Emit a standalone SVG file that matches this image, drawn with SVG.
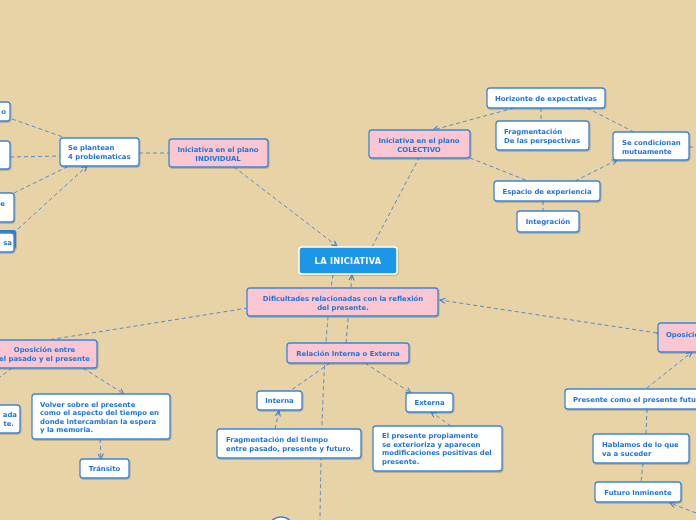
<svg xmlns="http://www.w3.org/2000/svg" width="696" height="520" viewBox="0 0 696 520">
<defs>
<style>
.bg{fill:#e8d3a7}
.n{fill:#ffffff;stroke:#3b86d8;stroke-width:1.3}
.p{fill:#f9c6d1;stroke:#3b86d8;stroke-width:1.3}
.t{font-family:"DejaVu Sans",Verdana,sans-serif;font-weight:bold;font-size:6.9px;fill:#1f74d8}
.c{text-anchor:middle}
.e{text-anchor:end}
.k{fill:none;stroke:#5a8ac8;stroke-width:1;stroke-dasharray:4 3}
.root{fill:#1c97e7;stroke:#ffffff;stroke-width:1.5}
.rt{font-family:"DejaVu Sans",Verdana,sans-serif;font-weight:bold;font-size:8.2px;fill:#ffffff;text-anchor:middle;letter-spacing:0.3px}
</style>
<marker id="a" viewBox="0 0 8 8" refX="7" refY="4" markerWidth="7" markerHeight="7" orient="auto" markerUnits="userSpaceOnUse">
<path d="M1,1 L7,4 L1,7" fill="none" stroke="#3b7fd0" stroke-width="1.2"/>
</marker>
<filter id="s" x="-10%" y="-10%" width="130%" height="140%">
<feDropShadow dx="0.8" dy="1" stdDeviation="0.7" flood-color="#000" flood-opacity="0.22"/>
</filter>
</defs>
<rect class="bg" x="0" y="0" width="696" height="520"/>

<g id="connectors">
<path class="k" d="M12,119 L63,137"/>
<path class="k" d="M10,157 L60,156"/>
<path class="k" d="M14,193 L67,167"/>
<path class="k" d="M18,229 L87,166" marker-end="url(#a)"/>
<path class="k" d="M139,153 L169,153"/>
<path class="k" d="M234,167 L337,246" marker-end="url(#a)"/>
<path class="k" d="M372,247 L419,158"/>
<path class="k" d="M514,108 L433,130" marker-end="url(#a)"/>
<path class="k" d="M541,108 L541,121"/>
<path class="k" d="M587,108 L634,132"/>
<path class="k" d="M689,147 L696,147"/>
<path class="k" d="M470,158 L528,181"/>
<path class="k" d="M575,181 L617,160" marker-end="url(#a)"/>
<path class="k" d="M543,201 L543,211"/>
<path class="k" d="M333,275 Q322,345 320,520"/>
<path class="k" d="M346,343 L352,275" marker-end="url(#a)"/>
<path class="k" d="M248,308 L48,340"/>
<path class="k" d="M657,333 L440,300" marker-start="url(#a)" marker-end="url(#a)"/>
<path class="k" d="M647,388 L692,352" marker-end="url(#a)"/>
<path class="k" d="M647,409 L646,434"/>
<path class="k" d="M643,463 L641,482"/>
<path class="k" d="M696,513 L670,503" marker-end="url(#a)"/>
<path class="k" d="M330,363 L290,391"/>
<path class="k" d="M365,363 L411,393" marker-end="url(#a)"/>
<path class="k" d="M275,429 L279,411" marker-end="url(#a)"/>
<path class="k" d="M451,426 L431,412" marker-end="url(#a)"/>
<path class="k" d="M83,368 L124,394" marker-end="url(#a)"/>
<path class="k" d="M12,368 L0,377"/>
<path class="k" d="M100,439 L101,459" marker-end="url(#a)"/>
</g>

<g id="root" filter="url(#s)"><rect class="root" x="299" y="247" width="98" height="27" rx="3"/><text class="rt" x="348" y="264">LA INICIATIVA</text></g>

<g id="dificultades" filter="url(#s)"><rect class="p" x="247" y="288" width="191" height="28" rx="3"/>
<text class="t c" x="343" y="300.5">Dificultades relacionadas con la reflexión</text><text class="t c" x="343" y="309.5">del presente.</text></g>

<g id="relacion" filter="url(#s)"><rect class="p" x="287" y="343" width="122" height="20" rx="3"/><text class="t c" x="348" y="355.5">Relación Interna o Externa</text></g>

<g id="individual" filter="url(#s)"><rect class="p" x="169" y="139" width="99" height="28" rx="3"/>
<text class="t c" x="218" y="152">Iniciativa en el plano</text><text class="t c" x="218" y="160.5">INDIVIDUAL</text></g>

<g id="plantean" filter="url(#s)"><rect class="n" x="60" y="138" width="79" height="28" rx="3"/>
<text class="t" x="68" y="149.5">Se plantean</text><text class="t" x="68" y="158.5">4 problematicas</text></g>

<g id="left-a" filter="url(#s)"><rect class="n" x="-40" y="102" width="50" height="19" rx="3"/><text class="t e" x="6" y="114">o</text></g>
<g id="left-b" filter="url(#s)"><rect class="n" x="-40" y="141" width="50" height="28" rx="3"/></g>
<g id="left-c" filter="url(#s)"><rect class="n" x="-40" y="193" width="54" height="29" rx="3"/><text class="t e" x="5" y="205.5">e</text></g>
<g id="left-d" filter="url(#s)"><rect x="-40" y="230" width="56" height="19" rx="2" fill="#2a7fd4"/><rect class="n" x="-40" y="233" width="54" height="19" rx="3"/><text class="t e" x="12" y="244.5">sa</text></g>

<g id="colectivo" filter="url(#s)"><rect class="p" x="369" y="130" width="101" height="28" rx="3"/>
<text class="t c" x="419" y="143">Iniciativa en el plano</text><text class="t c" x="419" y="151.5">COLECTIVO</text></g>

<g id="horizonte" filter="url(#s)"><rect class="n" x="487" y="88" width="118" height="20" rx="3"/><text class="t c" x="546" y="100.5">Horizonte de expectativas</text></g>

<g id="fragmentacion-persp" filter="url(#s)"><rect class="n" x="496" y="121" width="93" height="29" rx="3"/>
<text class="t" x="504" y="134">Fragmentación</text><text class="t" x="504" y="143">De las perspectivas</text></g>

<g id="condicionan" filter="url(#s)"><rect class="n" x="613" y="132" width="76" height="28" rx="3"/>
<text class="t" x="622" y="145">Se condicionan</text><text class="t" x="622" y="153.5">mutuamente</text></g>

<g id="espacio" filter="url(#s)"><rect class="n" x="494" y="181" width="106" height="20" rx="3"/><text class="t c" x="547" y="193.5">Espacio de experiencia</text></g>

<g id="integracion" filter="url(#s)"><rect class="n" x="517" y="211" width="62" height="21" rx="3"/><text class="t c" x="548" y="223.8">Integración</text></g>

<g id="oposicion-pasado" filter="url(#s)"><rect class="p" x="-10" y="340" width="107" height="28" rx="3"/>
<text class="t c" x="44.5" y="352.3">Oposición entre</text><text class="t c" x="44.5" y="361.3">el pasado y el presente</text></g>

<g id="left-ada" filter="url(#s)"><rect class="n" x="-40" y="405" width="60" height="28" rx="3"/>
<text class="t e" x="17" y="417.3">ada</text><text class="t e" x="14" y="425.8">te.</text></g>

<g id="volver" filter="url(#s)"><rect class="n" x="32" y="394" width="138" height="45" rx="3"/>
<text class="t" x="40" y="406.5">Volver sobre el presente</text><text class="t" x="40" y="415">como el aspecto del tiempo en</text>
<text class="t" x="40" y="423.5">donde intercambian la espera</text><text class="t" x="40" y="432">y la memoria.</text></g>

<g id="transito" filter="url(#s)"><rect class="n" x="80" y="459" width="49" height="19" rx="3"/><text class="t c" x="104.5" y="471">Tránsito</text></g>

<g id="interna" filter="url(#s)"><rect class="n" x="257" y="391" width="45" height="19" rx="3"/><text class="t c" x="279.5" y="402.5">Interna</text></g>

<g id="externa" filter="url(#s)"><rect class="n" x="406" y="393" width="47" height="19" rx="3"/><text class="t c" x="429.5" y="404.5">Externa</text></g>

<g id="fragmentacion-tiempo" filter="url(#s)"><rect class="n" x="217" y="429" width="144" height="29" rx="3"/>
<text class="t" x="226" y="442.3">Fragmentación del tiempo</text><text class="t" x="226" y="451">entre pasado, presente y futuro.</text></g>

<g id="presente-exterioriza" filter="url(#s)"><rect class="n" x="373" y="426" width="129" height="45" rx="3"/>
<text class="t" x="382" y="438.3">El presente propiamente</text><text class="t" x="382" y="446.6">se exterioriza y aparecen</text>
<text class="t" x="382" y="455.3">modificaciones positivas del</text><text class="t" x="382" y="463.6">presente.</text></g>

<g id="oposicion-futuro" filter="url(#s)"><rect class="p" x="658" y="323" width="60" height="29" rx="3"/><text class="t" x="666" y="336.5">Oposición entre</text></g>

<g id="presente-futuro" filter="url(#s)"><rect class="n" x="565" y="389" width="150" height="20" rx="3"/><text class="t" x="573" y="401.5">Presente como el presente futuro</text></g>

<g id="hablamos" filter="url(#s)"><rect class="n" x="593" y="434" width="96" height="29" rx="3"/>
<text class="t" x="602" y="447">Hablamos de lo que</text><text class="t" x="602" y="456">va a suceder</text></g>

<g id="futuro" filter="url(#s)"><rect class="n" x="595" y="482" width="86" height="20" rx="3"/><text class="t c" x="638" y="494.5">Futuro Inminente</text></g>

<g id="bottom-node"><ellipse cx="281" cy="541" rx="17" ry="24" fill="#ffffff" stroke="#3b86d8" stroke-width="1.5"/></g>
</svg>
